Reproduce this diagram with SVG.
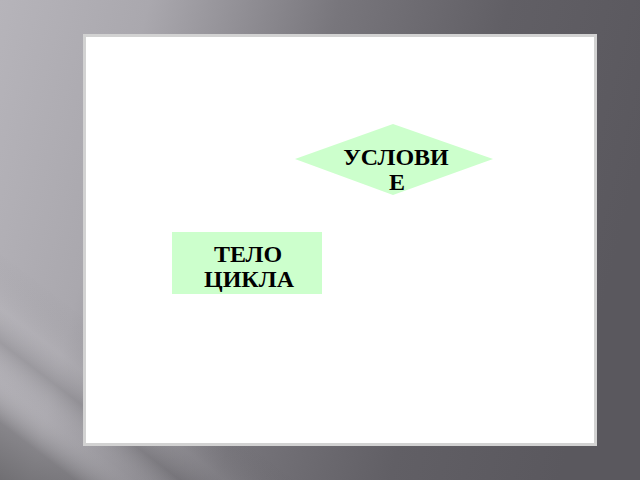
<svg xmlns="http://www.w3.org/2000/svg" width="640" height="480" viewBox="0 0 640 480">
  <defs>
    <linearGradient id="bg" x1="0" y1="0" x2="640" y2="160" gradientUnits="userSpaceOnUse">
      <stop offset="0" stop-color="#b6b4ba"/>
      <stop offset="0.22" stop-color="#aaa8ae"/>
      <stop offset="0.5" stop-color="#78767c"/>
      <stop offset="0.75" stop-color="#615f65"/>
      <stop offset="1" stop-color="#5a585e"/>
    </linearGradient>
    <linearGradient id="shade" x1="150" y1="365" x2="39" y2="510" gradientUnits="userSpaceOnUse">
      <stop offset="0" stop-color="#000000" stop-opacity="0"/>
      <stop offset="0.25" stop-color="#ffffff" stop-opacity="0.05"/>
      <stop offset="0.4" stop-color="#000000" stop-opacity="0.1"/>
      <stop offset="0.55" stop-color="#ffffff" stop-opacity="0.03"/>
      <stop offset="0.75" stop-color="#000000" stop-opacity="0.22"/>
      <stop offset="1" stop-color="#000000" stop-opacity="0.35"/>
    </linearGradient>
    <style>
      .shape { fill: #ccffcc; stroke: none; }
      .label { font-family: "Liberation Serif", "Times New Roman", serif; font-weight: bold; font-size: 24px; fill: #000000; text-anchor: middle; }
    </style>
  </defs>
  <rect x="0" y="0" width="640" height="480" fill="url(#bg)"/>
  <polygon points="0,250 0,480 300,480" fill="url(#shade)"/>
  <rect id="panel" x="84.5" y="35.5" width="511" height="409" fill="#ffffff" stroke="#d2d2d2" stroke-width="3"/>
  <g id="connectors"></g>
  <g id="condition">
    <polygon class="shape" points="295,159 393,124 493,159 393,195"/>
    <text class="label" x="396" y="165">УСЛОВИ</text>
    <text class="label" x="397" y="190">Е</text>
  </g>
  <g id="body">
    <rect class="shape" x="172" y="232" width="150" height="62"/>
    <text class="label" x="248" y="262">ТЕЛО</text>
    <text class="label" x="249" y="287">ЦИКЛА</text>
  </g>
</svg>
